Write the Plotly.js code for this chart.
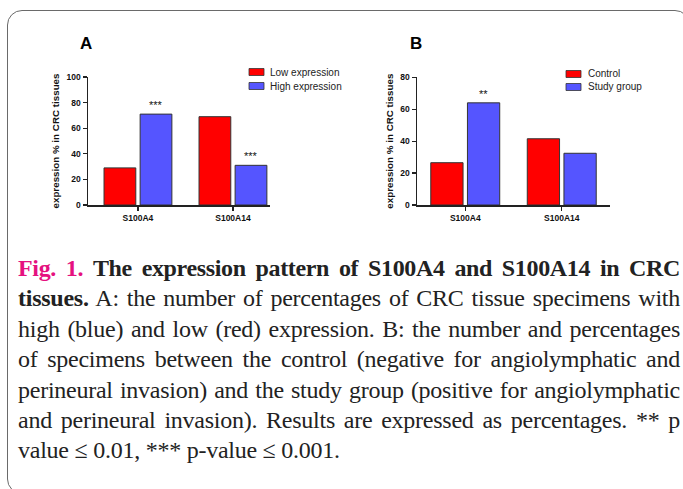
<!DOCTYPE html>
<html>
<head>
<meta charset="utf-8">
<script src="https://cdn.plot.ly/plotly-3.0.1.min.js"></script>
<style>
  html, body { margin:0; padding:0; background:#fff; width:683px; height:489px; overflow:hidden; }
  #frame { position:absolute; left:7px; top:10px; width:683px; height:484px; border:1.3px solid #6a6a6a; border-radius:15px; box-sizing:border-box; }
  #chart { position:absolute; left:0; top:0; width:683px; height:489px; }
  #caption { position:absolute; left:18px; top:253px; width:662px; font-family:"Liberation Serif","Times New Roman",serif; font-size:24px; line-height:30.4px; color:#222; letter-spacing:-0.25px; }
  #caption .ln { display:block; white-space:nowrap; text-align:justify; text-align-last:justify; }
  #caption .first { letter-spacing:-0.35px; }
  #caption .last { text-align-last:left; }
  #caption .fig { color:#e5117f; font-weight:bold; }
  #caption b { font-weight:bold; }
</style>
</head>
<body>
<div id="frame"></div>
<div id="chart"></div>
<div id="caption">
  <span class="ln first"><span class="fig">Fig. 1.</span> <b>The expression pattern of S100A4 and S100A14 in CRC</b></span>
  <span class="ln"><b>tissues.</b> A: the number of percentages of CRC tissue specimens with</span>
  <span class="ln">high (blue) and low (red) expression. B: the number and percentages</span>
  <span class="ln">of specimens between the control (negative for angiolymphatic and</span>
  <span class="ln">perineural invasion) and the study group (positive for angiolymphatic</span>
  <span class="ln">and perineural invasion). Results are expressed as percentages. ** p</span>
  <span class="ln last">value ≤ 0.01, *** p-value ≤ 0.001.</span>
</div>
<script>
// ---- data ----
const categories = ["S100A4", "S100A14"];
const lowExpression = [29, 69];
const highExpression = [71, 31];
const controlGroup = [26.5, 41.5];
const studyGroup = [64, 32.4];
const sigA = ["***", "***"];
const sigB = ["**", ""];
const namesA = ["Low expression", "High expression"];
const namesB = ["Control", "Study group"];
const yTicksA = [0, 20, 40, 60, 80, 100];
const yTicksB = [0, 20, 40, 60, 80];

const RED = "#ff0000", BLUE = "#5555ff";
const W = 683, H = 489;
const px = v => v / W, py = v => 1 - v / H;
const FONT = "Arial, 'Liberation Sans', sans-serif";

const bar = (y, color, name, xa, ya) => ({
  type: "bar", x: categories, y: y, name: name, xaxis: xa, yaxis: ya,
  marker: { color: color, line: { color: "#333", width: 1 } }, showlegend: false
});

const data = [
  bar(lowExpression, RED, namesA[0], "x", "y"),
  bar(highExpression, BLUE, namesA[1], "x", "y"),
  bar(controlGroup, RED, namesB[0], "x2", "y2"),
  bar(studyGroup, BLUE, namesB[1], "x2", "y2")
];

const xaxisBase = {
  type: "category", showgrid: false, zeroline: false, showline: true,
  linecolor: "#222", linewidth: 1.5, ticks: "outside", ticklen: 4, tickwidth: 1.2, tickcolor: "#222",
  tickfont: { family: FONT, size: 8.5, color: "#111", weight: "bold" }, fixedrange: true
};
const yaxisBase = {
  showgrid: false, zeroline: false, showline: true, linecolor: "#222", linewidth: 1.5,
  ticks: "outside", ticklen: 4, tickwidth: 1.2, tickcolor: "#222", tickmode: "array",
  tickfont: { family: FONT, size: 8.5, color: "#111", weight: "bold" },
  title: { text: "expression % in CRC tissues", font: { family: FONT, size: 9.8, color: "#111", weight: "bold" }, standoff: 5 },
  fixedrange: true
};

const annotations = [];
const star = (s, x, y, xa, ya) => ({ x: x, y: y, xref: xa, yref: ya, text: s, showarrow: false, xshift: 18, xanchor: "center", yanchor: "bottom", yshift: 1, font: { family: FONT, size: 11, color: "#111" } });
sigA.forEach((s, i) => { if (s) annotations.push(star(s, categories[i], highExpression[i], "x", "y")); });
sigB.forEach((s, i) => { if (s) annotations.push(star(s, categories[i], studyGroup[i], "x2", "y2")); });

annotations.push({ x: px(86), y: py(44), xref: "paper", yref: "paper", xanchor: "center", yanchor: "middle", text: "A", showarrow: false, font: { family: FONT, size: 17, color: "#000", weight: "bold" } });
annotations.push({ x: px(416), y: py(44), xref: "paper", yref: "paper", xanchor: "center", yanchor: "middle", text: "B", showarrow: false, font: { family: FONT, size: 17, color: "#000", weight: "bold" } });

// custom legends
const shapes = [];
const legend = (names, colors, x0, x1, tx, ys) => {
  names.forEach((n, i) => {
    shapes.push({ type: "rect", xref: "paper", yref: "paper", x0: px(x0), x1: px(x1), y0: py(ys[i] - 3.5), y1: py(ys[i] + 3.5), fillcolor: colors[i], line: { color: "#333", width: 0.8 } });
    annotations.push({ x: px(tx), y: py(ys[i]), xref: "paper", yref: "paper", xanchor: "left", yanchor: "middle", text: n, showarrow: false, font: { family: FONT, size: 10, color: "#222" } });
  });
};
legend(namesA, [RED, BLUE], 249, 264, 268, [72, 86]);
legend(namesB, [RED, BLUE], 566, 581, 586, [74, 87]);

const layout = {
  width: W, height: H, margin: { l: 0, r: 0, t: 0, b: 0 },
  paper_bgcolor: "rgba(0,0,0,0)", plot_bgcolor: "rgba(0,0,0,0)",
  barmode: "group", bargap: 0.24, bargroupgap: 0.12, showlegend: false,
  xaxis: Object.assign({}, xaxisBase, { domain: [px(88), px(270)], range: [-0.526, 1.39], anchor: "y" }),
  yaxis: Object.assign({}, yaxisBase, { domain: [py(205), py(77)], range: [0, 100], tickvals: yTicksA, anchor: "x" }),
  xaxis2: Object.assign({}, xaxisBase, { domain: [px(417), px(610)], range: [-0.5, 1.5], anchor: "y2" }),
  yaxis2: Object.assign({}, yaxisBase, { domain: [py(205), py(77.3)], range: [0, 80], tickvals: yTicksB, anchor: "x2" }),
  annotations: annotations, shapes: shapes
};

Plotly.newPlot("chart", data, layout, { displayModeBar: false, staticPlot: true });
</script>
</body>
</html>
